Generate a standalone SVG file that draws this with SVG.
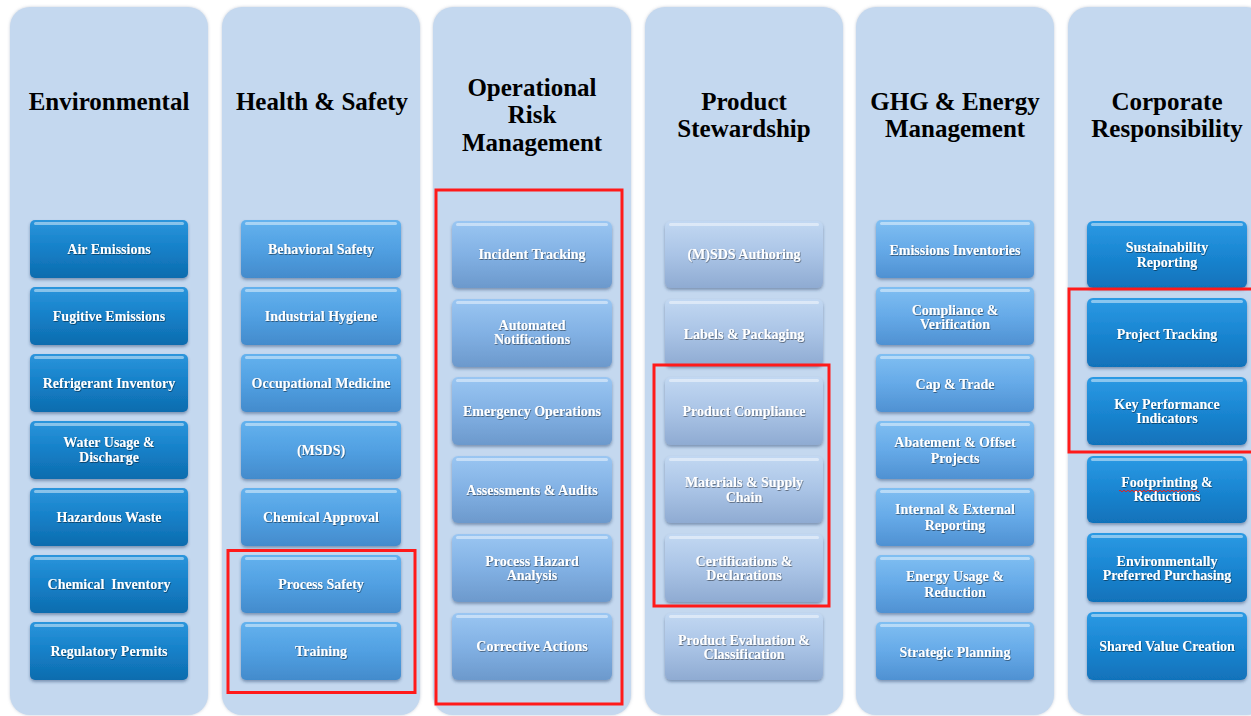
<svg xmlns="http://www.w3.org/2000/svg" width="1251" height="716" viewBox="0 0 1251 716">
<style>
.col{fill:#c4d8ef;filter:url(#colsh)}
.hd{font-family:"Liberation Serif","Times New Roman",serif;font-weight:bold;font-size:25px;fill:#000;text-anchor:middle}
.bt{font-family:"Liberation Serif","Times New Roman",serif;font-weight:bold;font-size:14px;fill:#fff;text-anchor:middle;filter:url(#tsh)}
.bx{filter:url(#bsh)}
.hl{fill:#fff;opacity:.45}
.red{fill:none;stroke:#ff1a1a;stroke-width:3}
.c1{fill:url(#g1)}.c2{fill:url(#g2)}.c3{fill:url(#g3)}.c4{fill:url(#g4)}.c5{fill:url(#g5)}.c6{fill:url(#g6)}
</style>
<defs>
<filter id="colsh" x="-5%" y="-5%" width="110%" height="110%"><feDropShadow dx="0" dy="0" stdDeviation="1.5" flood-color="#8a9ab0" flood-opacity=".5"/></filter>
<filter id="bsh" x="-10%" y="-10%" width="120%" height="130%"><feDropShadow dx="0" dy="2" stdDeviation="1.5" flood-color="#20406a" flood-opacity=".45"/></filter>
<filter id="tsh" x="-10%" y="-30%" width="120%" height="160%"><feDropShadow dx="0.6" dy="0.8" stdDeviation="0.6" flood-color="#000" flood-opacity=".55"/></filter>
<linearGradient id="g1" x1="0" y1="0" x2="0" y2="1"><stop offset="0" stop-color="#2b95dc"/><stop offset=".5" stop-color="#1580c8"/><stop offset="1" stop-color="#0e6cae"/></linearGradient>
<linearGradient id="g2" x1="0" y1="0" x2="0" y2="1"><stop offset="0" stop-color="#64b2ee"/><stop offset=".5" stop-color="#51a0e2"/><stop offset="1" stop-color="#438bcc"/></linearGradient>
<linearGradient id="g3" x1="0" y1="0" x2="0" y2="1"><stop offset="0" stop-color="#9ac6f2"/><stop offset=".5" stop-color="#82b1e4"/><stop offset="1" stop-color="#6c99cc"/></linearGradient>
<linearGradient id="g4" x1="0" y1="0" x2="0" y2="1"><stop offset="0" stop-color="#c2d8f2"/><stop offset=".5" stop-color="#aac4e6"/><stop offset="1" stop-color="#8fabd2"/></linearGradient>
<linearGradient id="g5" x1="0" y1="0" x2="0" y2="1"><stop offset="0" stop-color="#80bff2"/><stop offset=".5" stop-color="#66aae8"/><stop offset="1" stop-color="#4f91d2"/></linearGradient>
<linearGradient id="g6" x1="0" y1="0" x2="0" y2="1"><stop offset="0" stop-color="#2c9ae4"/><stop offset=".5" stop-color="#1a86d2"/><stop offset="1" stop-color="#1172ba"/></linearGradient>
</defs>
<rect width="1251" height="716" fill="#fff"/>

<g id="columns">
<rect class="col" x="10" y="7" width="198" height="708" rx="20"/>
<rect class="col" x="222" y="7" width="198" height="708" rx="20"/>
<rect class="col" x="433" y="7" width="198" height="708" rx="20"/>
<rect class="col" x="645" y="7" width="198" height="708" rx="20"/>
<rect class="col" x="856" y="7" width="198" height="708" rx="20"/>
<rect class="col" x="1068" y="7" width="198" height="708" rx="20"/>
</g>

<g id="headers">
<text class="hd" x="109" y="110">Environmental</text>
<text class="hd" x="322" y="110">Health &amp; Safety</text>
<text class="hd" x="532" y="96">Operational</text>
<text class="hd" x="532" y="123">Risk</text>
<text class="hd" x="532" y="151">Management</text>
<text class="hd" x="744" y="110">Product</text>
<text class="hd" x="744" y="137">Stewardship</text>
<text class="hd" x="955" y="110">GHG &amp; Energy</text>
<text class="hd" x="955" y="137">Management</text>
<text class="hd" x="1167" y="110">Corporate</text>
<text class="hd" x="1167" y="137">Responsibility</text>
</g>

<!-- Environmental -->
<g id="env-air"><rect class="bx c1" x="30" y="220" width="158" height="58" rx="5"/><rect class="hl" x="34" y="222" width="150" height="3" rx="1.5"/><text class="bt" x="109" y="254">Air Emissions</text></g>
<g id="env-fugitive"><rect class="bx c1" x="30" y="287" width="158" height="58" rx="5"/><rect class="hl" x="34" y="289" width="150" height="3" rx="1.5"/><text class="bt" x="109" y="321">Fugitive Emissions</text></g>
<g id="env-refrig"><rect class="bx c1" x="30" y="354" width="158" height="58" rx="5"/><rect class="hl" x="34" y="356" width="150" height="3" rx="1.5"/><text class="bt" x="109" y="388">Refrigerant Inventory</text></g>
<g id="env-water"><rect class="bx c1" x="30" y="421" width="158" height="58" rx="5"/><rect class="hl" x="34" y="423" width="150" height="3" rx="1.5"/><text class="bt" x="109" y="447">Water Usage &amp;</text><text class="bt" x="109" y="462">Discharge</text></g>
<g id="env-haz"><rect class="bx c1" x="30" y="488" width="158" height="58" rx="5"/><rect class="hl" x="34" y="490" width="150" height="3" rx="1.5"/><text class="bt" x="109" y="522">Hazardous Waste</text></g>
<g id="env-chem"><rect class="bx c1" x="30" y="555" width="158" height="58" rx="5"/><rect class="hl" x="34" y="557" width="150" height="3" rx="1.5"/><text class="bt" x="109" y="589" xml:space="preserve">Chemical  Inventory</text></g>
<g id="env-permits"><rect class="bx c1" x="30" y="622" width="158" height="58" rx="5"/><rect class="hl" x="34" y="624" width="150" height="3" rx="1.5"/><text class="bt" x="109" y="656">Regulatory Permits</text></g>

<!-- Health & Safety -->
<g id="hs-behav"><rect class="bx c2" x="241" y="220" width="160" height="58" rx="5"/><rect class="hl" x="245" y="222" width="152" height="3" rx="1.5"/><text class="bt" x="321" y="254">Behavioral Safety</text></g>
<g id="hs-hyg"><rect class="bx c2" x="241" y="287" width="160" height="58" rx="5"/><rect class="hl" x="245" y="289" width="152" height="3" rx="1.5"/><text class="bt" x="321" y="321">Industrial Hygiene</text></g>
<g id="hs-med"><rect class="bx c2" x="241" y="354" width="160" height="58" rx="5"/><rect class="hl" x="245" y="356" width="152" height="3" rx="1.5"/><text class="bt" x="321" y="388">Occupational Medicine</text></g>
<g id="hs-msds"><rect class="bx c2" x="241" y="421" width="160" height="58" rx="5"/><rect class="hl" x="245" y="423" width="152" height="3" rx="1.5"/><text class="bt" x="321" y="455">(MSDS)</text></g>
<g id="hs-chem"><rect class="bx c2" x="241" y="488" width="160" height="58" rx="5"/><rect class="hl" x="245" y="490" width="152" height="3" rx="1.5"/><text class="bt" x="321" y="522">Chemical Approval</text></g>
<g id="hs-proc"><rect class="bx c2" x="241" y="555" width="160" height="58" rx="5"/><rect class="hl" x="245" y="557" width="152" height="3" rx="1.5"/><text class="bt" x="321" y="589">Process Safety</text></g>
<g id="hs-train"><rect class="bx c2" x="241" y="622" width="160" height="58" rx="5"/><rect class="hl" x="245" y="624" width="152" height="3" rx="1.5"/><text class="bt" x="321" y="656">Training</text></g>

<!-- Operational Risk Management -->
<g id="orm-incident"><rect class="bx c3" x="452" y="221" width="160" height="67" rx="6"/><rect class="hl" x="456" y="223" width="152" height="3" rx="1.5"/><text class="bt" x="532" y="259">Incident Tracking</text></g>
<g id="orm-notif"><rect class="bx c3" x="452" y="299" width="160" height="68" rx="6"/><rect class="hl" x="456" y="301" width="152" height="3" rx="1.5"/><text class="bt" x="532" y="330">Automated</text><text class="bt" x="532" y="344">Notifications</text></g>
<g id="orm-emerg"><rect class="bx c3" x="452" y="377" width="160" height="68" rx="6"/><rect class="hl" x="456" y="379" width="152" height="3" rx="1.5"/><text class="bt" x="532" y="416">Emergency Operations</text></g>
<g id="orm-audit"><rect class="bx c3" x="452" y="456" width="160" height="67" rx="6"/><rect class="hl" x="456" y="458" width="152" height="3" rx="1.5"/><text class="bt" x="532" y="495">Assessments &amp; Audits</text></g>
<g id="orm-pha"><rect class="bx c3" x="452" y="534" width="160" height="68" rx="6"/><rect class="hl" x="456" y="536" width="152" height="3" rx="1.5"/><text class="bt" x="532" y="566">Process Hazard</text><text class="bt" x="532" y="580">Analysis</text></g>
<g id="orm-corr"><rect class="bx c3" x="452" y="613" width="160" height="67" rx="6"/><rect class="hl" x="456" y="615" width="152" height="3" rx="1.5"/><text class="bt" x="532" y="651">Corrective Actions</text></g>

<!-- Product Stewardship -->
<g id="ps-msds"><rect class="bx c4" x="665" y="221" width="158" height="67" rx="6"/><rect class="hl" x="669" y="223" width="150" height="3" rx="1.5"/><text class="bt" x="744" y="259">(M)SDS Authoring</text></g>
<g id="ps-labels"><rect class="bx c4" x="665" y="299" width="158" height="67" rx="6"/><rect class="hl" x="669" y="301" width="150" height="3" rx="1.5"/><text class="bt" x="744" y="339">Labels &amp; Packaging</text></g>
<g id="ps-compl"><rect class="bx c4" x="665" y="377" width="158" height="68" rx="6"/><rect class="hl" x="669" y="379" width="150" height="3" rx="1.5"/><text class="bt" x="744" y="416">Product Compliance</text></g>
<g id="ps-supply"><rect class="bx c4" x="665" y="456" width="158" height="67" rx="6"/><rect class="hl" x="669" y="458" width="150" height="3" rx="1.5"/><text class="bt" x="744" y="487">Materials &amp; Supply</text><text class="bt" x="744" y="502">Chain</text></g>
<g id="ps-cert"><rect class="bx c4" x="665" y="534" width="158" height="68" rx="6"/><rect class="hl" x="669" y="536" width="150" height="3" rx="1.5"/><text class="bt" x="744" y="566">Certifications &amp;</text><text class="bt" x="744" y="580">Declarations</text></g>
<g id="ps-eval"><rect class="bx c4" x="665" y="613" width="158" height="67" rx="6"/><rect class="hl" x="669" y="615" width="150" height="3" rx="1.5"/><text class="bt" x="744" y="645">Product Evaluation &amp;</text><text class="bt" x="744" y="659">Classification</text></g>

<!-- GHG & Energy Management -->
<g id="ghg-inv"><rect class="bx c5" x="876" y="220" width="158" height="58" rx="5"/><rect class="hl" x="880" y="222" width="150" height="3" rx="1.5"/><text class="bt" x="955" y="255">Emissions Inventories</text></g>
<g id="ghg-verif"><rect class="bx c5" x="876" y="287" width="158" height="58" rx="5"/><rect class="hl" x="880" y="289" width="150" height="3" rx="1.5"/><text class="bt" x="955" y="315">Compliance &amp;</text><text class="bt" x="955" y="329">Verification</text></g>
<g id="ghg-cap"><rect class="bx c5" x="876" y="354" width="158" height="58" rx="5"/><rect class="hl" x="880" y="356" width="150" height="3" rx="1.5"/><text class="bt" x="955" y="389">Cap &amp; Trade</text></g>
<g id="ghg-abate"><rect class="bx c5" x="876" y="421" width="158" height="58" rx="5"/><rect class="hl" x="880" y="423" width="150" height="3" rx="1.5"/><text class="bt" x="955" y="447">Abatement &amp; Offset</text><text class="bt" x="955" y="463">Projects</text></g>
<g id="ghg-report"><rect class="bx c5" x="876" y="488" width="158" height="58" rx="5"/><rect class="hl" x="880" y="490" width="150" height="3" rx="1.5"/><text class="bt" x="955" y="514">Internal &amp; External</text><text class="bt" x="955" y="530">Reporting</text></g>
<g id="ghg-energy"><rect class="bx c5" x="876" y="555" width="158" height="58" rx="5"/><rect class="hl" x="880" y="557" width="150" height="3" rx="1.5"/><text class="bt" x="955" y="581">Energy Usage &amp;</text><text class="bt" x="955" y="597">Reduction</text></g>
<g id="ghg-plan"><rect class="bx c5" x="876" y="622" width="158" height="58" rx="5"/><rect class="hl" x="880" y="624" width="150" height="3" rx="1.5"/><text class="bt" x="955" y="657">Strategic Planning</text></g>

<!-- Corporate Responsibility -->
<g id="cr-sust"><rect class="bx c6" x="1087" y="221" width="160" height="67" rx="6"/><rect class="hl" x="1091" y="223" width="152" height="3" rx="1.5"/><text class="bt" x="1167" y="252">Sustainability</text><text class="bt" x="1167" y="267">Reporting</text></g>
<g id="cr-proj"><rect class="bx c6" x="1087" y="298" width="160" height="69" rx="6"/><rect class="hl" x="1091" y="300" width="152" height="3" rx="1.5"/><text class="bt" x="1167" y="339">Project Tracking</text></g>
<g id="cr-kpi"><rect class="bx c6" x="1087" y="377" width="160" height="68" rx="6"/><rect class="hl" x="1091" y="379" width="152" height="3" rx="1.5"/><text class="bt" x="1167" y="409">Key Performance</text><text class="bt" x="1167" y="423">Indicators</text></g>
<g id="cr-foot"><rect class="bx c6" x="1087" y="456" width="160" height="67" rx="6"/><rect class="hl" x="1091" y="458" width="152" height="3" rx="1.5"/><text class="bt" x="1167" y="487">Footprinting &amp;</text><text class="bt" x="1167" y="501">Reductions</text><path d="M1119 491 q1 -1.6 2 0 t2 0 t2 0 t2 0 t2 0 t2 0 t2 0 t2 0 t2 0 t2 0 t2 0 t2 0 t2 0 t2 0 t2 0 t2 0 t2 0 t2 0 t2 0 t2 0 t2 0 t2 0 t2 0 t2 0 t2 0 t2 0 t2 0 t2 0 t2 0 t2 0 t2 0 t2 0 t2 0 t2 0 t2 0 t2 0 t2 0 t2 0 t2 0 t2 0" fill="none" stroke="#e02020" stroke-width="1"/></g>
<g id="cr-epp"><rect class="bx c6" x="1087" y="533" width="160" height="69" rx="6"/><rect class="hl" x="1091" y="535" width="152" height="3" rx="1.5"/><text class="bt" x="1167" y="566">Environmentally</text><text class="bt" x="1167" y="580">Preferred Purchasing</text></g>
<g id="cr-shared"><rect class="bx c6" x="1087" y="612" width="160" height="68" rx="6"/><rect class="hl" x="1091" y="614" width="152" height="3" rx="1.5"/><text class="bt" x="1167" y="651">Shared Value Creation</text></g>

<g id="highlights">
<rect class="red" x="228" y="550.5" width="187" height="142"/>
<rect class="red" x="436" y="190" width="186" height="514"/>
<rect class="red" x="654" y="365" width="175" height="241"/>
<rect class="red" x="1069" y="289" width="190" height="163"/>
</g>
</svg>
